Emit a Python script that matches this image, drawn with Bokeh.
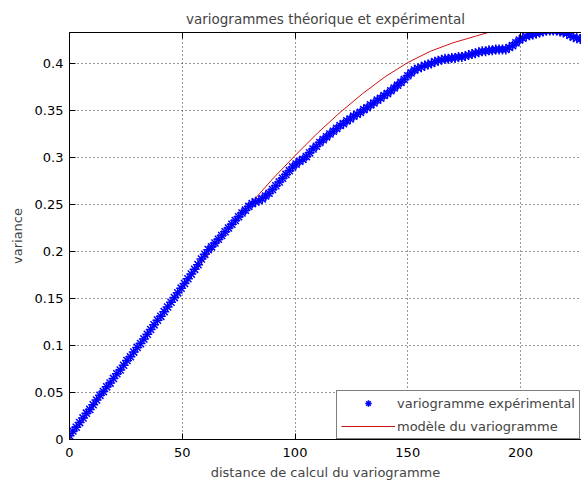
from bokeh.plotting import figure
from bokeh.models import Range1d, LinearAxis, FixedTicker, Legend, LegendItem
from bokeh.embed import file_html
from bokeh.resources import INLINE

# ---- data ----
lag_step = 1.5
variance_exp = [
    0.004, 0.009, 0.013, 0.018, 0.023, 0.028, 0.032, 0.037, 0.042, 0.047,
    0.051, 0.056, 0.060, 0.065, 0.070, 0.074, 0.079, 0.084, 0.088, 0.093,
    0.098, 0.102, 0.107, 0.112, 0.117, 0.122, 0.127, 0.131, 0.136, 0.141,
    0.146, 0.151, 0.156, 0.161, 0.166, 0.171, 0.176, 0.181, 0.186, 0.192,
    0.197, 0.202, 0.205, 0.209, 0.213, 0.217, 0.221, 0.225, 0.229, 0.233,
    0.237, 0.241, 0.244, 0.248, 0.251, 0.253, 0.254, 0.256, 0.259, 0.262,
    0.266, 0.270, 0.274, 0.278, 0.282, 0.286, 0.290, 0.293, 0.296, 0.298,
    0.301, 0.305, 0.309, 0.312, 0.316, 0.319, 0.322, 0.325, 0.328, 0.331,
    0.334, 0.336, 0.339, 0.341, 0.344, 0.346, 0.348, 0.351, 0.353, 0.356,
    0.358, 0.361, 0.363, 0.366, 0.368, 0.371, 0.374, 0.377, 0.380, 0.383,
    0.387, 0.390, 0.393, 0.395, 0.396, 0.398, 0.399, 0.400, 0.402, 0.403,
    0.404, 0.405, 0.405, 0.406, 0.406, 0.407, 0.407, 0.408, 0.409, 0.410,
    0.411, 0.412, 0.413, 0.413, 0.414, 0.414, 0.415, 0.415, 0.415, 0.415,
    0.417, 0.419, 0.422, 0.425, 0.427, 0.429, 0.430, 0.431, 0.432, 0.433,
    0.434, 0.435, 0.435, 0.435, 0.435, 0.434, 0.433, 0.432, 0.430, 0.428,
    0.427, 0.426, 0.425,
]
distance_exp = [round(lag_step * i, 2) for i in range(len(variance_exp))]

distance_model = [0, 10, 20, 30, 40, 50, 60, 70, 80, 90, 100, 110, 120, 130,
                  140, 150, 160, 170, 180, 187, 195, 200, 228]
variance_model = [0.0, 0.033, 0.066, 0.098, 0.130, 0.161, 0.192, 0.221, 0.250,
                  0.277, 0.302, 0.326, 0.348, 0.368, 0.386, 0.401, 0.413, 0.422,
                  0.429, 0.434, 0.438, 0.440, 0.440]

x_ticks = [0, 50, 100, 150, 200]
y_ticks = [0, 0.05, 0.1, 0.15, 0.2, 0.25, 0.3, 0.35, 0.4]
y_tick_labels = ["0", "0.05", "0.1", "0.15", "0.2", "0.25", "0.3", "0.35", "0.4"]

title_text = "variogrammes théorique et expérimental"
x_label = "distance de calcul du variogramme"
y_label = "variance"
legend_labels = ["variogramme expérimental", "modèle du variogramme"]

FONT = "DejaVu Sans"
FS = "13px"

p = figure(width=581, height=482, output_backend="svg", toolbar_location=None,
           x_range=Range1d(0, 227.05), y_range=Range1d(0, 0.433),
           min_border_left=69, min_border_right=0, min_border_top=32,
           min_border_bottom=43, title=title_text)
p.outline_line_color = None
p.background_fill_color = "white"
p.border_fill_color = "white"

p.title.align = "center"
p.title.vertical_align = "top"
p.title.text_font = FONT
p.title.text_font_size = "13.5px"
p.title.text_font_style = "normal"
p.title.standoff = 8

# axes
for ax in (p.xaxis[0], p.yaxis[0]):
    ax.major_tick_in = 6
    ax.major_tick_out = 0
    ax.minor_tick_line_color = None
    ax.major_label_text_font = FONT
    ax.major_label_text_font_size = FS
    ax.axis_label_text_font = FONT
    ax.axis_label_text_font_size = FS
    ax.axis_label_text_font_style = "normal"
    ax.axis_line_color = "black"
    ax.major_tick_line_color = "black"
    ax.major_label_text_color = "black"

p.xaxis.ticker = FixedTicker(ticks=x_ticks)
p.yaxis.ticker = FixedTicker(ticks=y_ticks)
p.yaxis.major_label_overrides = {t: l for t, l in zip(y_ticks, y_tick_labels)}
p.xaxis.axis_label = x_label
p.yaxis.axis_label = y_label
p.xaxis.major_label_standoff = 8
p.yaxis.major_label_standoff = 6
p.xaxis.axis_label_standoff = 5
p.yaxis.axis_label_standoff = 7

# top frame edge with inward ticks (no labels)
top_axis = LinearAxis(ticker=FixedTicker(ticks=x_ticks), major_tick_in=6,
                      major_tick_out=0, major_label_standoff=0,
                      major_label_overrides={t: "" for t in x_ticks},
                      major_label_text_color=None,
                      minor_tick_line_color=None,
                      axis_line_color="black", major_tick_line_color="black")
p.add_layout(top_axis, "above")

# grid
for g in (p.xgrid[0], p.ygrid[0]):
    g.grid_line_color = "black"
    g.grid_line_dash = "1 3"
    g.grid_line_width = 1
    g.grid_line_alpha = 0.8
p.xgrid.ticker = FixedTicker(ticks=x_ticks)
p.ygrid.ticker = FixedTicker(ticks=y_ticks)

r_model = p.line(distance_model, variance_model, line_color="#d01010", line_width=1)
r_exp = p.scatter(distance_exp, variance_exp, marker="asterisk", size=10,
                  line_color="#0000ff", line_width=1.5)

legend = Legend(items=[LegendItem(label=legend_labels[0], renderers=[r_exp]),
                       LegendItem(label=legend_labels[1], renderers=[r_model])],
                location=(267, 0), orientation="vertical")
legend.label_text_font = FONT
legend.label_text_font_size = FS
legend.border_line_color = "black"
legend.border_line_width = 1
legend.background_fill_color = "white"
legend.background_fill_alpha = 1.0
legend.padding = 4
legend.spacing = 7
legend.glyph_width = 54
legend.glyph_height = 16
legend.label_height = 16
legend.label_standoff = 2
legend.margin = 0
p.add_layout(legend)

open("out.html", "w").write(file_html(p, INLINE))
